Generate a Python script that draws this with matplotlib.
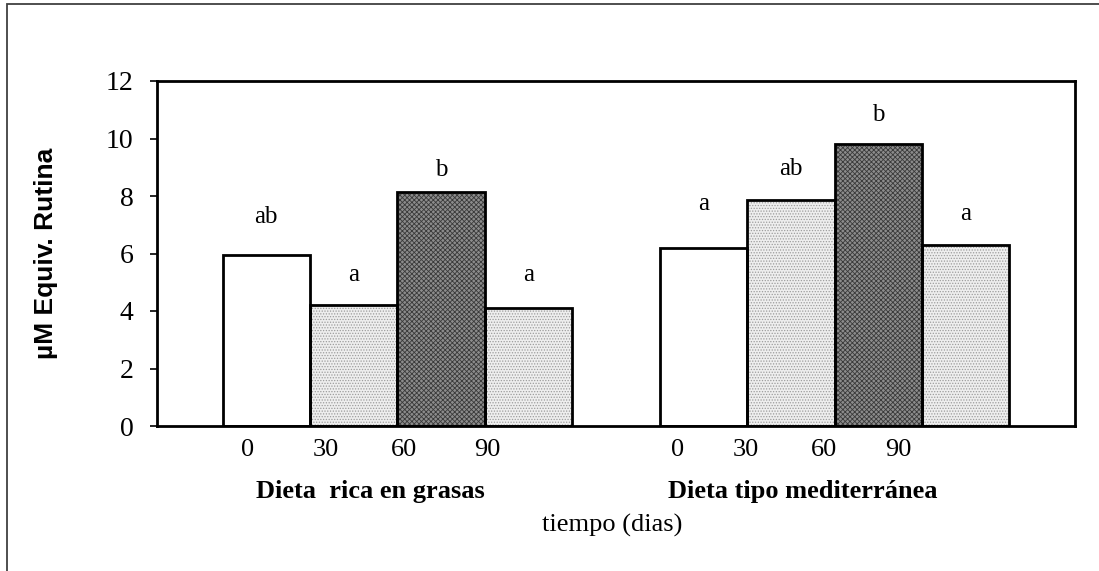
import matplotlib
matplotlib.use("Agg")
import matplotlib.pyplot as plt
from matplotlib.patches import Rectangle

# data
DAYS = ["0", "30", "60", "90"]
DIETS = ["Dieta  rica en grasas", "Dieta tipo mediterránea"]
GRASAS = [5.95, 4.2, 8.15, 4.1]
MEDITERRANEA = [6.2, 7.85, 9.8, 6.3]
LETTERS_GRASAS = ["ab", "a", "b", "a"]
LETTERS_MEDITERRANEA = ["a", "ab", "b", "a"]
X_LABEL = "tiempo (dias)"
Y_LABEL = "µM Equiv. Rutina"

# layout / style
BAR_FACES = ["white", "#eeeeee", "#8c8c8c", "#eeeeee"]
BAR_HATCH = [None, "......", "xxxxxxx", "......"]
HATCH_COLORS = ["none", "#9c9c9c", "#3a3a3a", "#9c9c9c"]
GROUP_START = [0.75, 5.75]
LETTER_GAP = [[1.32, 1.05, 0.77, 1.15], [1.53, 1.10, 1.03, 1.08]]
DAY_OFFSETS = [[0.29, 1.18, 2.07, 3.03], [0.20, 0.99, 1.88, 2.73]]
DIET_LABEL_X = [2.44, 7.39]
SERIF = "Liberation Serif"
SANS = "Liberation Sans"

plt.rcParams["hatch.linewidth"] = 0.6

fig = plt.figure(figsize=(10.99, 5.71), dpi=100)
ax = fig.add_axes([157 / 1099, 1 - 426 / 571, 918 / 1099, 345 / 571])

# outer frame, only top and left edges are visible in the reference
fig.patches.append(Rectangle((7 / 1099, -0.1), 1.2, 1 - 4 / 571 + 0.1,
                             transform=fig.transFigure, fill=False,
                             edgecolor="#404040", linewidth=1.3))

series = [GRASAS, MEDITERRANEA]
letters = [LETTERS_GRASAS, LETTERS_MEDITERRANEA]
tick_pos, tick_lab = [], []
for g, values in enumerate(series):
    centers = [GROUP_START[g] + i + 0.5 for i in range(len(values))]
    ax.bar(centers, values, width=1.0, color=BAR_FACES, linewidth=0, zorder=2)
    # texture overlay, then black outlines on top
    for c, v, h, hc in zip(centers, values, BAR_HATCH, HATCH_COLORS):
        if h:
            ax.bar(c, v, width=1.0, facecolor="none", edgecolor=hc,
                   hatch=h, linewidth=0, zorder=3)
    ax.bar(centers, values, width=1.0, fill=False, edgecolor="black",
           linewidth=2.0, zorder=4)
    for c, v, lab, gap in zip(centers, values, letters[g], LETTER_GAP[g]):
        ax.text(c, v + gap, lab, ha="center", va="center",
                fontsize=18, family=SERIF)
    tick_pos += [GROUP_START[g] + off for off in DAY_OFFSETS[g]]
    tick_lab += DAYS
    ax.text(DIET_LABEL_X[g], -0.191, DIETS[g],
            transform=ax.get_xaxis_transform(), ha="center", va="center",
            fontsize=19, fontweight="bold", family=SERIF)

ax.text(5.21, -0.287, X_LABEL, transform=ax.get_xaxis_transform(),
        ha="center", va="center", fontsize=19, family=SERIF)

ax.set_xlim(0, 10.5)
ax.set_ylim(0, 12)
ax.set_yticks(range(0, 13, 2))
ax.set_xticks(tick_pos)
ax.set_xticklabels(tick_lab)
ax.tick_params(axis="x", length=0, pad=9, labelsize=19)
ax.tick_params(axis="y", direction="out", length=5, width=1.2, pad=12,
               labelsize=20)
for lab in ax.get_xticklabels() + ax.get_yticklabels():
    lab.set_family(SERIF)
for sp in ax.spines.values():
    sp.set_linewidth(2.0)
    sp.set_zorder(5)

fig.text(46 / 1099, 1 - 253 / 571, Y_LABEL, rotation=90, ha="center",
         va="center", fontsize=19, fontweight="bold", family=SANS)

fig.savefig("out.png", dpi=100)
